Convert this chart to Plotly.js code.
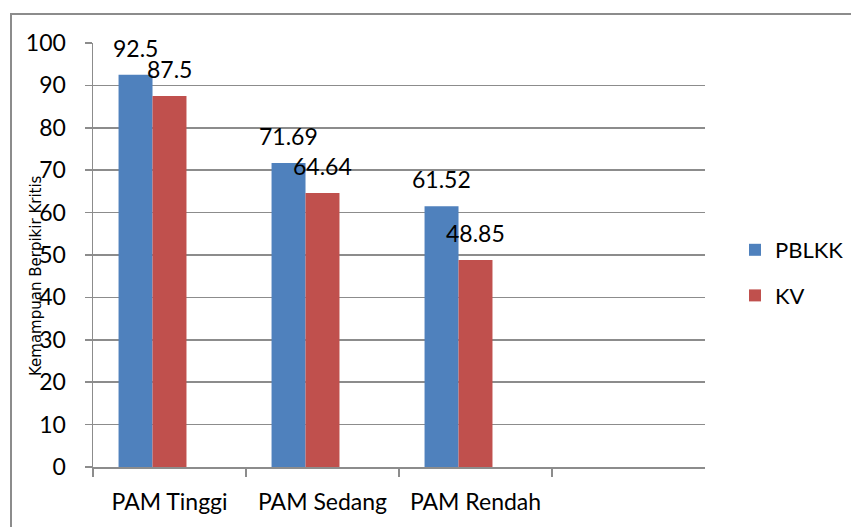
<!DOCTYPE html>
<html>
<head>
<meta charset="utf-8">
<script src="https://cdn.plot.ly/plotly-3.0.1.min.js"></script>
<style>html,body{margin:0;padding:0;background:#fff}#chart{width:851px;height:527px}</style>
</head>
<body>
<div id="chart"></div>
<script>
var categories = ["PAM Tinggi", "PAM Sedang", "PAM Rendah"];
var seriesNames = ["PBLKK", "KV"];
var pblkk = [92.5, 71.69, 61.52];
var kv = [87.5, 64.64, 48.85];
var yTicks = [0, 10, 20, 30, 40, 50, 60, 70, 80, 90, 100];
var yTitle = "Kemampuan Berpikir Kritis";

var FONT = "Lato, sans-serif";
var colors = ["#4F81BD", "#C0504D"];
var barW = 0.222;
var offsets = [-0.333, -0.111];
var series = [pblkk, kv];

var traces = series.map(function (vals, i) {
  return {
    type: "bar",
    name: seriesNames[i],
    x: categories,
    y: vals,
    width: barW,
    offset: offsets[i],
    marker: {color: colors[i]},
    legendgroup: "g" + i,
    hoverinfo: "x+y+name"
  };
});

var L = 93, R = 146, T = 43, B = 60, W = 851, H = 527;
var pw = W - L - R, ph = H - T - B;

var annotations = [];
series.forEach(function (vals, i) {
  vals.forEach(function (v, j) {
    annotations.push({
      x: j + offsets[i] + barW / 2, y: v, xref: "x", yref: "y",
      text: String(v), showarrow: false, xanchor: "center", yanchor: "bottom", yshift: 11,
      font: {family: FONT, size: 23, color: "#000"}
    });
  });
});
annotations.push({
  x: (36 - L) / pw, y: (H - B - 276) / ph, xref: "paper", yref: "paper",
  xanchor: "center", yanchor: "middle",
  text: yTitle, textangle: -90, showarrow: false,
  font: {family: "DejaVu Sans, sans-serif", size: 15, color: "#000"}
});

var layout = {
  width: W, height: H,
  margin: {l: L, r: R, t: T, b: B, pad: 0, autoexpand: false},
  paper_bgcolor: "#fff", plot_bgcolor: "#fff",
  showlegend: true,
  barmode: "overlay",
  font: {family: FONT, color: "#000"},
  xaxis: {
    type: "category",
    range: [-0.5, 3.5],
    tickson: "boundaries",
    ticks: "outside", ticklen: 8, tickwidth: 1.5, tickcolor: "#8c8c8c",
    showline: true, linecolor: "#8c8c8c", linewidth: 1.5,
    showgrid: false, zeroline: false,
    tickfont: {family: FONT, size: 23, color: "#000"},
    ticklabelstandoff: 14,
    automargin: false,
    fixedrange: true
  },
  yaxis: {
    range: [0, 100],
    tickvals: yTicks,
    ticks: "outside", ticklen: 7, tickwidth: 1.5, tickcolor: "#8c8c8c",
    showline: true, linecolor: "#8c8c8c", linewidth: 1.5,
    showgrid: true, gridcolor: "#8c8c8c", gridwidth: 1.5,
    zeroline: false,
    tickfont: {family: FONT, size: 23, color: "#000"},
    ticklabelstandoff: 14,
    automargin: false,
    fixedrange: true
  },
  legend: {
    x: (735 - L) / pw, xanchor: "left",
    y: (H - B - 273) / ph, yanchor: "middle",
    font: {family: FONT, size: 22, color: "#000"},
    traceorder: "grouped", tracegroupgap: 14,
    bgcolor: "rgba(0,0,0,0)"
  },
  annotations: annotations,
  shapes: [{
    type: "rect", xref: "paper", yref: "paper",
    x0: (11 - L) / pw, x1: (W + 20 - L) / pw,
    y0: (H - B - (H + 20)) / ph, y1: (H - B - 14) / ph,
    line: {color: "#8c8c8c", width: 2}, fillcolor: "rgba(0,0,0,0)", layer: "below"
  }]
};

Plotly.newPlot("chart", traces, layout, {displayModeBar: false, staticPlot: true});
</script>
</body>
</html>
